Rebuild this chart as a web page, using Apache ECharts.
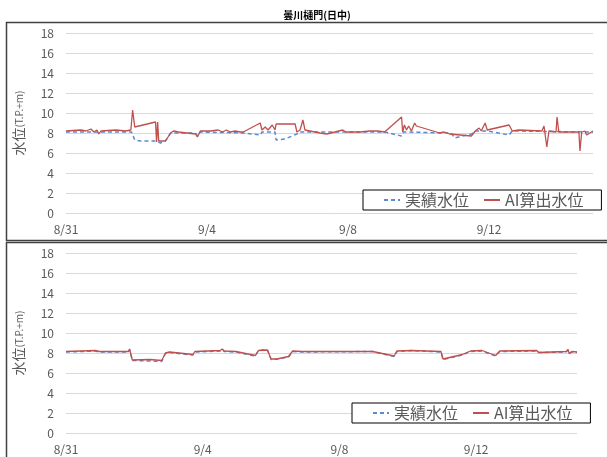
<!DOCTYPE html>
<html>
<head>
<meta charset="utf-8">
<script src="https://cdn.jsdelivr.net/npm/echarts@6/dist/echarts.min.js"></script>
<style>
  html, body { margin: 0; padding: 0; background: #fff; }
  #chart { width: 607px; height: 457px; }
</style>
</head>
<body>
<div id="chart"></div>
<script>
// x = days since 8/31 0:00, y = 水位 (T.P.+m)
const dateLabels = ['8/31', '9/4', '9/8', '9/12'];
const seriesNames = ['実績水位', 'AI算出水位'];

// 上段
const topActual = [
  [0, 8.1], [1.86, 8.1], [1.95, 7.3], [2.12, 7.2], [2.54, 7.2], [2.68, 7.0],
  [2.82, 7.2], [2.97, 8.0], [3.67, 8.0], [3.73, 7.7], [3.81, 8.1], [5.03, 8.0],
  [5.51, 7.8], [5.56, 8.1], [5.93, 8.1], [5.96, 7.3], [6.21, 7.4], [6.55, 7.9],
  [6.64, 8.1], [9.04, 8.1], [9.52, 7.7], [9.58, 8.1], [10.93, 8.0], [11.02, 7.5],
  [11.50, 7.9], [11.61, 8.2], [11.95, 8.2], [12.57, 7.8], [12.66, 8.2], [14.95, 8.1]
];
const topAI = [
  [0, 8.2], [0.42, 8.3], [0.56, 8.2], [0.71, 8.4], [0.79, 8.1], [0.88, 8.3],
  [0.93, 7.9], [0.99, 8.2], [1.41, 8.3], [1.69, 8.2], [1.84, 8.3], [1.89, 10.3],
  [1.95, 8.6], [2.54, 9.1], [2.57, 7.1], [2.60, 9.1], [2.63, 7.2], [2.68, 7.0],
  [2.82, 7.2], [2.97, 8.0], [3.05, 8.2], [3.19, 8.1], [3.67, 7.9], [3.73, 7.6],
  [3.81, 8.2], [4.10, 8.2], [4.32, 8.3], [4.44, 8.1], [4.55, 8.3], [4.66, 8.1],
  [4.80, 8.2], [4.94, 8.1], [5.03, 8.1], [5.51, 9.0], [5.56, 8.3], [5.65, 8.6],
  [5.73, 8.3], [5.85, 8.8], [5.93, 8.3], [5.96, 8.9], [6.50, 8.9], [6.55, 8.1],
  [6.64, 8.3], [6.69, 8.1], [6.72, 9.3], [6.78, 8.3], [6.92, 8.2], [7.20, 8.0],
  [7.40, 7.9], [7.63, 8.1], [7.85, 8.3], [7.94, 8.1], [8.33, 8.1], [8.62, 8.2],
  [8.84, 8.2], [9.04, 8.1], [9.52, 9.6], [9.55, 8.1], [9.60, 8.8], [9.66, 8.3],
  [9.72, 8.7], [9.80, 8.2], [9.89, 9.0], [9.94, 8.7], [10.51, 8.1], [10.59, 8.0],
  [10.73, 8.1], [10.88, 7.9], [10.93, 8.0], [11.50, 7.7], [11.61, 8.2], [11.72, 8.5],
  [11.78, 8.2], [11.89, 9.0], [11.95, 8.3], [12.57, 8.8], [12.66, 8.2], [12.85, 8.3],
  [13.50, 8.2], [13.56, 8.7], [13.64, 6.6], [13.70, 8.2], [13.90, 8.1], [13.93, 9.6],
  [13.98, 8.1], [14.55, 8.1], [14.58, 6.2], [14.63, 8.1], [14.72, 8.2], [14.77, 7.8],
  [14.95, 8.2]
];

// 下段
const bottomActual = [
  [0, 8.1], [0.86, 8.2], [0.97, 8.1], [1.83, 8.1], [1.86, 8.35], [1.94, 7.25],
  [2.46, 7.2], [2.80, 7.15], [2.91, 7.95], [3.03, 8.05], [3.71, 7.8], [3.77, 8.1],
  [4.51, 8.2], [4.57, 8.35], [4.63, 8.15], [4.97, 8.1], [5.54, 7.7], [5.63, 8.25],
  [5.89, 8.35], [5.94, 8.45], [6.00, 7.35], [6.17, 7.4], [6.51, 7.6], [6.63, 8.15],
  [6.91, 8.1], [8.97, 8.15], [9.60, 7.65], [9.68, 8.15], [10.11, 8.25], [10.97, 8.1],
  [11.03, 7.35], [11.60, 7.8], [11.83, 8.15], [12.17, 8.2], [12.57, 7.7], [12.69, 8.15],
  [13.77, 8.2], [13.83, 8.05], [14.63, 8.1], [14.69, 8.3], [14.72, 7.95], [14.80, 8.1],
  [14.95, 8.05]
];
const bottomAI = [
  [0, 8.15], [0.86, 8.25], [0.97, 8.15], [1.83, 8.15], [1.86, 8.4], [1.94, 7.3],
  [2.46, 7.35], [2.80, 7.25], [2.91, 8.0], [3.03, 8.1], [3.71, 7.85], [3.77, 8.15],
  [4.51, 8.25], [4.57, 8.4], [4.63, 8.2], [4.97, 8.15], [5.54, 7.75], [5.63, 8.25],
  [5.89, 8.3], [5.94, 8.5], [6.00, 7.4], [6.17, 7.4], [6.51, 7.65], [6.63, 8.2],
  [6.91, 8.15], [8.97, 8.15], [9.60, 7.7], [9.68, 8.2], [10.11, 8.25], [10.97, 8.15],
  [11.03, 7.4], [11.60, 7.85], [11.83, 8.2], [12.17, 8.25], [12.57, 7.75], [12.69, 8.2],
  [13.77, 8.25], [13.83, 8.05], [14.63, 8.15], [14.69, 8.35], [14.72, 7.95], [14.80, 8.15],
  [14.95, 8.1]
];

const BLUE = '#5B8BD0';
const RED = '#C0504D';
const GRAY = '#595959';

function xAxis(gridIndex) {
  return {
    type: 'value', gridIndex: gridIndex,
    min: 0, max: 14.95, interval: 4,
    axisLine: { show: false }, axisTick: { show: false }, splitLine: { show: false },
    axisLabel: {
      color: GRAY, fontSize: 12, margin: 10, fontFamily: 'Noto Sans CJK JP',
      showMaxLabel: false,
      formatter: v => dateLabels[Math.round(v / 4)] || ''
    }
  };
}

function yAxis(gridIndex) {
  return {
    type: 'value', gridIndex: gridIndex,
    min: 0, max: 18, interval: 2,
    name: '{a|水位}{b|(T.P.+m)}',
    nameLocation: 'middle', nameGap: 40, nameRotate: 90,
    nameTextStyle: {
      rich: {
        a: { fontSize: 14, color: GRAY, fontFamily: 'Noto Sans CJK JP' },
        b: { fontSize: 10, color: GRAY, fontFamily: 'Noto Sans CJK JP' }
      }
    },
    axisLine: { show: false }, axisTick: { show: false },
    splitLine: { lineStyle: { color: '#d9d9d9', width: 1 } },
    axisLabel: { color: GRAY, fontSize: 12, margin: 12, fontFamily: 'Noto Sans CJK JP' }
  };
}

function legend(left, top) {
  return {
    left: left, top: top,
    data: seriesNames,
    itemWidth: 16, itemHeight: 2, itemGap: 14,
    padding: [2, 18, 2, 20],
    borderColor: '#000', borderWidth: 1, borderRadius: 0,
    backgroundColor: '#fff',
    textStyle: { fontSize: 16, color: GRAY, fontFamily: 'Noto Sans CJK JP' }
  };
}

function lineSeries(name, data, idx, color, dashed) {
  return {
    name: name, type: 'line', xAxisIndex: idx, yAxisIndex: idx,
    data: data, symbol: 'none', animation: false, z: dashed ? 2 : 3,
    lineStyle: { color: color, width: dashed ? 1.5 : 1.3, type: dashed ? [4, 3] : 'solid' },
    itemStyle: { color: color }
  };
}

const chart = echarts.init(document.getElementById('chart'), null, { renderer: 'canvas' });

chart.setOption({
  animation: false,
  backgroundColor: '#fff',
  title: {
    text: '曇川樋門(日中)', left: 312, top: 5, textAlign: 'center',
    textStyle: { fontSize: 10, fontWeight: 'bold', color: '#000', fontFamily: 'Noto Sans CJK JP' }
  },
  graphic: [
    { type: 'rect', shape: { x: 6.5, y: 22.5, width: 620, height: 218 },
      style: { fill: 'none', stroke: '#404040', lineWidth: 1.5 }, z: -1 },
    { type: 'rect', shape: { x: 6.5, y: 242.5, width: 620, height: 240 },
      style: { fill: 'none', stroke: '#404040', lineWidth: 1.5 }, z: -1 }
  ],
  grid: [
    { left: 66, right: 14, top: 33, height: 180 },
    { left: 66, right: 30, top: 253, height: 180 }
  ],
  xAxis: [xAxis(0), xAxis(1)],
  yAxis: [yAxis(0), yAxis(1)],
  legend: [legend(363, 190), legend(352, 403)],
  series: [
    lineSeries(seriesNames[0], topActual, 0, BLUE, true),
    lineSeries(seriesNames[1], topAI, 0, RED, false),
    lineSeries(seriesNames[0], bottomActual, 1, BLUE, true),
    lineSeries(seriesNames[1], bottomAI, 1, RED, false)
  ]
});
</script>
</body>
</html>
